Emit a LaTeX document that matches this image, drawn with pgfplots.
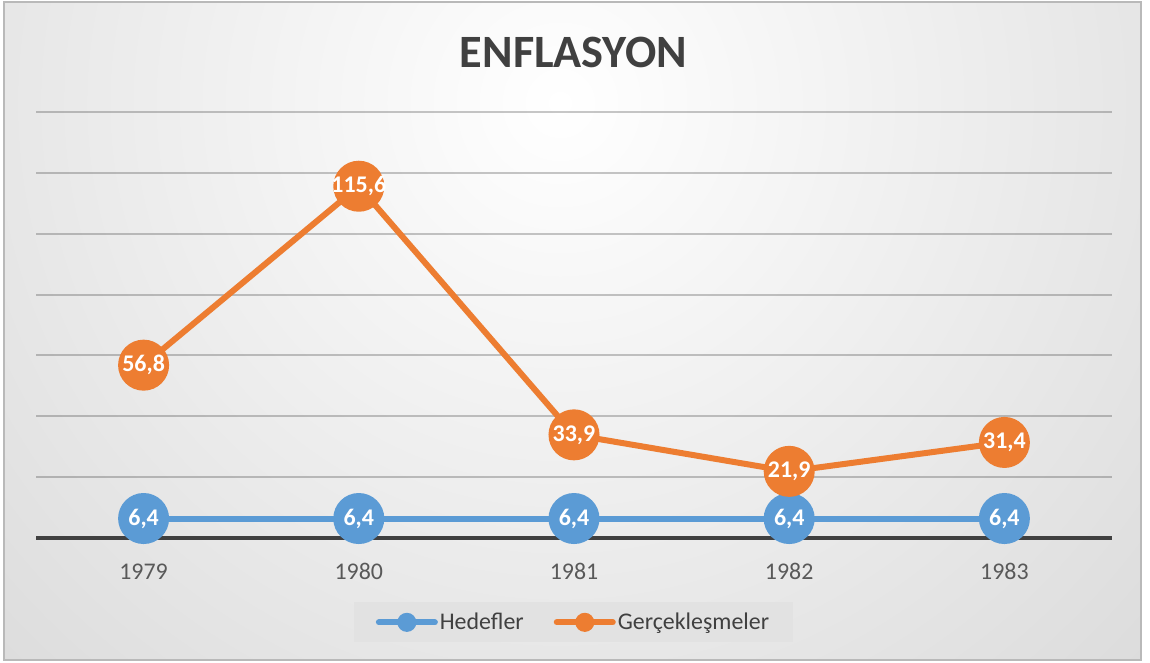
\documentclass[border=0pt]{standalone}
\usepackage{fontspec}
\setmainfont{Carlito}
\usepackage{pgfplots}
\pgfplotsset{compat=1.18}
\definecolor{cblue}{HTML}{5B9BD5}
\definecolor{corange}{HTML}{ED7D31}
\definecolor{ctitle}{HTML}{404040}
\definecolor{ctick}{HTML}{595959}
\definecolor{cedge}{HTML}{BEBEBE}
\definecolor{clegend}{HTML}{E2E2E2}
\pgfplotstableread{
x y label
0 6.4 6,4
1 6.4 6,4
2 6.4 6,4
3 6.4 6,4
4 6.4 6,4
}\hedef
\pgfplotstableread{
x y label
0 56.8 56,8
1 115.6 115,6
2 33.9 33,9
3 21.9 21,9
4 31.4 31,4
}\gercek
\begin{document}
\begin{tikzpicture}[x=1bp,y=1bp]
\fill[white] (0,0) rectangle (1150,663);
\begin{scope}
\clip (4,3) rectangle (1141,661);
\fill[cedge] (0,0) rectangle (1150,663);
\shade[inner color=white, outer color=cedge] (560,560) circle (1500);
\end{scope}
\draw[gray!55, line width=1.5bp] (4,3) rectangle (1141,661);
\node[font=\fontsize{46.5}{54}\selectfont\bfseries, text=ctitle] at (573.5,611) {ENFLASYON};
\begin{axis}[
  at={(36bp,125bp)}, anchor=south west,
  scale only axis, width=1076bp, height=426bp,
  xmin=-0.5, xmax=4.5, ymin=0, ymax=140,
  clip=false,
  axis line style={draw=none},
  xtick={0,1,2,3,4},
  xticklabels={1979,1980,1981,1982,1983},
  ytick={20,40,...,140},
  yticklabels={},
  major tick length=0,
  ymajorgrids,
  major grid style={black, opacity=0.22, line width=2bp},
  xticklabel style={font=\fontsize{24}{28}\selectfont, text=ctick, anchor=base, yshift=-42bp},
  legend style={at={(0.4995,-0.198)}, anchor=center, fill=clegend, draw=none,
    font=\fontsize{24}{28}\selectfont, text=ctitle, legend columns=2,
    inner xsep=22bp, inner ysep=9bp,
    /tikz/every even column/.append style={column sep=28bp}},
  legend cell align=left,
  nodes near coords={\pgfplotspointmeta},
  point meta=explicit symbolic,
  every node near coord/.append style={anchor=center, text=white, font=\fontsize{24}{28}\selectfont\bfseries},
]
\draw[ctitle, line width=4bp] (rel axis cs:0,0) -- (rel axis cs:1,0);
\addplot[cblue, line width=6bp, mark=*, mark size=22.5bp, mark options={fill=cblue, draw=none},
  legend image code/.code={\draw[line width=6bp, line cap=round] (0bp,0bp) -- (56bp,0bp); \fill (28bp,0bp) circle (6.5bp);}]
  table[x=x, y=y, meta=label] {\hedef};
\addlegendentry{Hedefler}
\addplot[corange, line width=6bp, mark=*, mark size=22.5bp, mark options={fill=corange, draw=none},
  legend image code/.code={\draw[line width=6bp, line cap=round] (0bp,0bp) -- (56bp,0bp); \fill (28bp,0bp) circle (6.5bp);}]
  table[x=x, y=y, meta=label] {\gercek};
\addlegendentry{Gerçekleşmeler}
\end{axis}
\end{tikzpicture}
\end{document}
